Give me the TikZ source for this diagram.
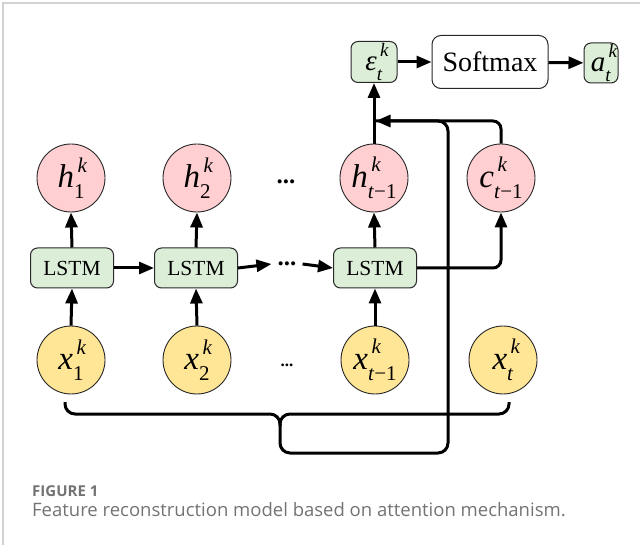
\documentclass[tikz,border=0pt]{standalone}
\usepackage{fontspec}
\setmainfont{Liberation Serif}
\newfontfamily\capfont{Open Sans}
\usetikzlibrary{arrows.meta}
\definecolor{gfill}{RGB}{220,238,215}
\definecolor{pfill}{RGB}{255,207,210}
\definecolor{yfill}{RGB}{255,229,150}
\definecolor{edgec}{RGB}{40,40,40}
\definecolor{capc}{RGB}{115,115,115}
\newcommand\vlab[3]{\fontsize{33}{33}\selectfont\textit{#1}\makebox[0pt][l]{\raisebox{0.48em}{\fontsize{21}{21}\selectfont\,\textit{#2}}}\raisebox{-0.32em}{\fontsize{21}{21}\selectfont #3}}
\newcommand\slab[3]{\fontsize{29}{29}\selectfont\textit{#1}\makebox[0pt][l]{\raisebox{0.5em}{\fontsize{19}{19}\selectfont\,\textit{#2}}}\raisebox{-0.35em}{\fontsize{19}{19}\selectfont #3}}
\tikzset{
  ln/.style={line width=3pt, draw=black},
  arr/.style={ln, -{Triangle[length=15pt,width=12pt]}},
  gbox/.style={draw=edgec, fill=gfill, rounded corners=7pt, line width=1pt, inner sep=0pt},
  pcirc/.style={circle, draw=edgec, fill=pfill, minimum size=68pt, inner sep=0pt, line width=0.9pt},
  ycirc/.style={circle, draw=edgec, fill=yfill, minimum size=68pt, inner sep=0pt, line width=0.9pt},
  lstm/.style={gbox, minimum width=83pt, minimum height=40pt, font=\fontsize{21.5}{21.5}\selectfont},
  dotsn/.style={inner sep=0pt, font=\bfseries\fontsize{25}{25}\selectfont},
}
\begin{document}
\begin{tikzpicture}[x=1pt,y=-1pt]
\useasboundingbox (0,0) rectangle (640,545);
\draw[gray!35, line width=1.5pt] (3,545) -- (3,3) -- (640,3);
% top row
\node[gbox, minimum width=46pt, minimum height=41pt] (eps) at (374,62) {\slab{ε}{k}{\textit{t}}};
\node[gbox, fill=white, minimum width=116pt, minimum height=53pt, rounded corners=9pt, font=\fontsize{28}{28}\selectfont] (soft) at (490,62) {Softmax};
\node[gbox, minimum width=34pt, minimum height=40pt] (a) at (601,63) {\slab{a}{k}{\textit{t}}};
% h row
\node[pcirc] (h1) at (71,178) {\vlab{h}{k}{1}};
\node[pcirc] (h2) at (197,178) {\vlab{h}{k}{2}};
\node[dotsn] (hd) at (286,182) {...};
\node[pcirc] (ht) at (374,178) {\vlab{h}{k}{\textit{t}−1}};
\node[pcirc] (c) at (501,178) {\vlab{c}{k}{\textit{t}−1}};
% LSTM row
\node[lstm] (L1) at (72,268) {LSTM};
\node[lstm] (L2) at (196,268) {LSTM};
\node[dotsn] (Ld) at (287,264) {...};
\node[lstm] (L3) at (375,268) {LSTM};
% x row
\node[ycirc] (x1) at (71,360) {\vlab{x}{k}{1}};
\node[ycirc] (x2) at (197,360) {\vlab{x}{k}{2}};
\node[dotsn, font=\bfseries\fontsize{17}{17}\selectfont] (xd) at (287,365) {...};
\node[ycirc] (xt1) at (375,360) {\vlab{x}{k}{\textit{t}−1}};
\node[ycirc] (xt) at (503,360) {\vlab{x}{k}{\textit{t}}};
% connectors
\draw[arr] (eps) -- (soft);
\draw[arr] (soft) -- (a);
\draw[arr] (ht.north) -- (eps.south);
\foreach \i in {1,2}{
  \draw[arr] (L\i.north) -- (h\i.south);
  \draw[arr] (x\i.north) -- (L\i.south);
}
\draw[arr] (L3.north) -- (ht.south);
\draw[arr] (xt1.north) -- (L3.south);
\draw[arr] (L1) -- (L2);
\draw[arr] (L2.east) -- ([xshift=-6pt]Ld.west);
\draw[arr] ([xshift=6pt]Ld.east) -- (L3.west);
\coordinate (cj) at (c.south |- L3.east);
\draw[arr, rounded corners=8pt] (L3.east) -- (cj) -- (c.south);
\coordinate (tip) at ([xshift=1.5pt]ht.north |- 0,121);
\draw[arr, rounded corners=8pt] (c.north) -- (c.north |- tip) -- (tip);
% brace
\coordinate (bl) at (65,402);
\coordinate (br) at (509,402);
\coordinate (bm) at (280,426);
\draw[ln, rounded corners=10pt] (bl) -- (65,414) -- (280,414) -- (bm);
\draw[ln, rounded corners=10pt] (br) -- (509,414) -- (280,414) -- (bm);
\draw[ln, rounded corners=10pt] (bm) -- (280,453) -- (448,453) -- (448,121) -- (tip);
% caption
\node[anchor=base west, inner sep=0pt, text=capc, font=\capfont\bfseries\fontsize{15}{15}\selectfont] (fig) at (32,496) {FIGURE 1};
\node[anchor=base west, inner sep=0pt, text=capc, font=\capfont\fontsize{18.5}{18.5}\selectfont] (cap) at (32,516) {Feature reconstruction model based on attention mechanism.};
\end{tikzpicture}
\end{document}
